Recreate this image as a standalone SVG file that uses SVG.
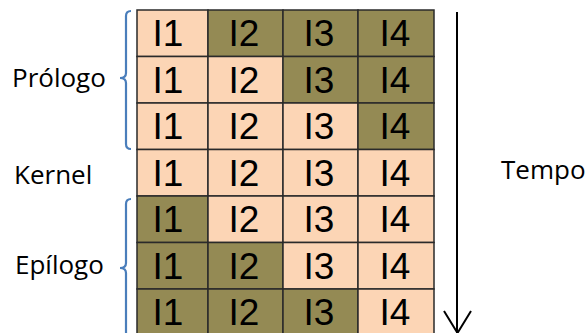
<svg xmlns="http://www.w3.org/2000/svg" width="587" height="333" viewBox="0 0 587 333">
<defs>
<style>
.p{fill:#FCD5B5;}
.o{fill:#948A54;}
.c rect{stroke:#2a2a2a;stroke-width:1.5;}
.c text{font-family:"Liberation Sans",Arial,sans-serif;font-size:37px;fill:#000;text-anchor:middle;}
.lbl{font-family:"Open Sans","Liberation Sans",sans-serif;font-size:26px;fill:#000;}
.br{fill:none;stroke:#4A7EBB;stroke-width:2.2;}
</style>
</defs>
<rect width="587" height="333" fill="#fff"/>
<g id="grid">
<g id="r1" class="c">
<rect class="p" x="137" y="10" width="71" height="46.5"/><text x="168" y="46">I1</text>
<rect class="o" x="208" y="10" width="75" height="46.5"/><text x="244" y="46">I2</text>
<rect class="o" x="283" y="10" width="75" height="46.5"/><text x="319" y="46">I3</text>
<rect class="o" x="358" y="10" width="76" height="46.5"/><text x="395" y="46">I4</text>
</g>
<g id="r2" class="c">
<rect class="p" x="137" y="56.5" width="71" height="46.5"/><text x="168" y="92.5">I1</text>
<rect class="p" x="208" y="56.5" width="75" height="46.5"/><text x="244" y="92.5">I2</text>
<rect class="o" x="283" y="56.5" width="75" height="46.5"/><text x="319" y="92.5">I3</text>
<rect class="o" x="358" y="56.5" width="76" height="46.5"/><text x="395" y="92.5">I4</text>
</g>
<g id="r3" class="c">
<rect class="p" x="137" y="103" width="71" height="46.5"/><text x="168" y="139">I1</text>
<rect class="p" x="208" y="103" width="75" height="46.5"/><text x="244" y="139">I2</text>
<rect class="p" x="283" y="103" width="75" height="46.5"/><text x="319" y="139">I3</text>
<rect class="o" x="358" y="103" width="76" height="46.5"/><text x="395" y="139">I4</text>
</g>
<g id="r4" class="c">
<rect class="p" x="137" y="149.5" width="71" height="46.5"/><text x="168" y="185.5">I1</text>
<rect class="p" x="208" y="149.5" width="75" height="46.5"/><text x="244" y="185.5">I2</text>
<rect class="p" x="283" y="149.5" width="75" height="46.5"/><text x="319" y="185.5">I3</text>
<rect class="p" x="358" y="149.5" width="76" height="46.5"/><text x="395" y="185.5">I4</text>
</g>
<g id="r5" class="c">
<rect class="o" x="137" y="196" width="71" height="46.5"/><text x="168" y="232">I1</text>
<rect class="p" x="208" y="196" width="75" height="46.5"/><text x="244" y="232">I2</text>
<rect class="p" x="283" y="196" width="75" height="46.5"/><text x="319" y="232">I3</text>
<rect class="p" x="358" y="196" width="76" height="46.5"/><text x="395" y="232">I4</text>
</g>
<g id="r6" class="c">
<rect class="o" x="137" y="242.5" width="71" height="46.5"/><text x="168" y="278.5">I1</text>
<rect class="o" x="208" y="242.5" width="75" height="46.5"/><text x="244" y="278.5">I2</text>
<rect class="p" x="283" y="242.5" width="75" height="46.5"/><text x="319" y="278.5">I3</text>
<rect class="p" x="358" y="242.5" width="76" height="46.5"/><text x="395" y="278.5">I4</text>
</g>
<g id="r7" class="c">
<rect class="o" x="137" y="289" width="71" height="46.5"/><text x="168" y="325">I1</text>
<rect class="o" x="208" y="289" width="75" height="46.5"/><text x="244" y="325">I2</text>
<rect class="o" x="283" y="289" width="75" height="46.5"/><text x="319" y="325">I3</text>
<rect class="p" x="358" y="289" width="76" height="46.5"/><text x="395" y="325">I4</text>
</g>
</g>
<g id="prologo">
<path class="br" d="M131,11 Q126,11 126,16 L126,73 Q126,78 120,78 Q126,78 126,83 L126,144 Q126,149 131,149"/>
<text class="lbl" x="12" y="87">Prólogo</text>
</g>
<g id="kernel">
<text class="lbl" x="14" y="184">Kernel</text>
</g>
<g id="epilogo">
<path class="br" d="M131,199 Q126,199 126,204 L126,263 Q126,268 120,268 Q126,268 126,273 L126,332 Q126,337 131,337"/>
<text class="lbl" x="15" y="274">Epílogo</text>
</g>
<g id="tempo">
<text class="lbl" x="501" y="179">Tempo</text>
</g>
<g id="connectors">
<path d="M457,12 L457,333" stroke="#000" stroke-width="2" fill="none"/>
<path d="M444,311 L457.5,333 L471,311" stroke="#000" stroke-width="2" fill="none"/>
</g>
</svg>
